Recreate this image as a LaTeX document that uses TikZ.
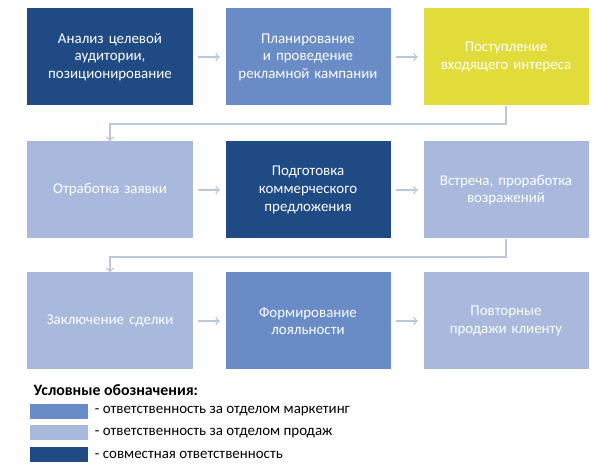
\documentclass[tikz,border=0pt]{standalone}
\usepackage{fontspec}
\setmainfont{Carlito}
\usetikzlibrary{positioning}
\definecolor{darkblue}{HTML}{1F4A84}
\definecolor{midblue}{HTML}{6A8CC6}
\definecolor{lightblue}{HTML}{A9B9DE}
\definecolor{ylw}{HTML}{E2DC3A}
\definecolor{arrowgray}{HTML}{BCC6DD}
\begin{document}
\begin{tikzpicture}

      \tikzset{stage/.style={rectangle, minimum width=3.3cm, minimum height=1.94cm, text width=3cm, align=center, text=white, font=\fontsize{8.5}{10}\selectfont},
               flow/.style={->, >=to, draw=arrowgray, thick},
               swatch/.style={rectangle, minimum width=1.16cm, minimum height=0.3cm, inner sep=0pt}}
      \useasboundingbox (0,0) rectangle (12,9.52);
%% Stages
      	\node[stage, fill=darkblue] (s1) at (2.2,8.38) {Анализ целевой аудитории, позиционирование};
      	\node[stage, fill=midblue] (s2) at (6.16,8.38) {Планирование и проведение рекламной кампании};
      	\node[stage, fill=ylw] (s3) at (10.12,8.38) {Поступление входящего интереса};
      	\node[stage, fill=lightblue] (s4) at (2.2,5.72) {Отработка заявки};
      	\node[stage, fill=darkblue] (s5) at (6.16,5.72) {Подготовка коммерческого предложения};
      	\node[stage, fill=lightblue] (s6) at (10.12,5.72) {Встреча, проработка возражений};
      	\node[stage, fill=lightblue] (s7) at (2.2,3.1) {Заключение сделки};
      	\node[stage, fill=midblue] (s8) at (6.16,3.1) {Формирование лояльности};
      	\node[stage, fill=lightblue] (s9) at (10.12,3.1) {Повторные продажи клиенту};
%Arrows
		\draw[flow] ([xshift=3pt]s1.east) -- ([xshift=-3pt]s2.west);
		\draw[flow] ([xshift=3pt]s2.east) -- ([xshift=-3pt]s3.west);
		\draw[flow] (s3.south) -- ++(0,-0.36) -| (s4.north);
		\draw[flow] ([xshift=3pt]s4.east) -- ([xshift=-3pt]s5.west);
		\draw[flow] ([xshift=3pt]s5.east) -- ([xshift=-3pt]s6.west);
		\draw[flow] (s6.south) -- ++(0,-0.36) -| (s7.north);
		\draw[flow] ([xshift=3pt]s7.east) -- ([xshift=-3pt]s8.west);
		\draw[flow] ([xshift=3pt]s8.east) -- ([xshift=-3pt]s9.west);
%Legend
		\node[anchor=west, font=\bfseries\fontsize{9}{10}\selectfont] (title) at (0.55,1.72) {Условные обозначения:};
		\node[swatch, fill=midblue, anchor=west] (k1) at (0.6,1.29) {};
		\node[swatch, fill=lightblue, anchor=west] (k2) at (0.6,0.86) {};
		\node[swatch, fill=darkblue, anchor=west] (k3) at (0.6,0.43) {};
		\node[right=0pt of k1, font=\fontsize{8.5}{10}\selectfont] {- ответственность за отделом маркетинг};
		\node[right=0pt of k2, font=\fontsize{8.5}{10}\selectfont] {- ответственность за отделом продаж};
		\node[right=0pt of k3, font=\fontsize{8.5}{10}\selectfont] {- совместная ответственность};

	\end{tikzpicture}
\end{document}
